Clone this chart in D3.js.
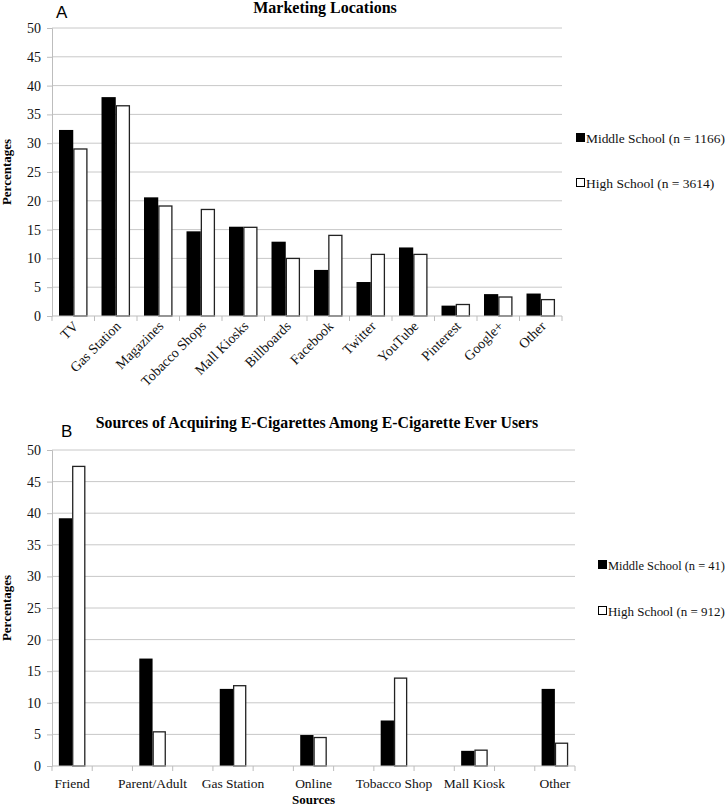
<!DOCTYPE html>
<html><head><meta charset="utf-8">
<script src="https://cdn.jsdelivr.net/npm/d3@7"></script>
<style>body{margin:0;background:#fff}svg{display:block}</style>
</head><body>
<script>
const locCategories = ["TV","Gas Station","Magazines","Tobacco Shops","Mall Kiosks","Billboards","Facebook","Twitter","YouTube","Pinterest","Google+","Other"];
const locMiddle = [32.3,38.0,20.6,14.7,15.5,12.9,8.0,5.9,11.9,1.8,3.8,3.9];
const locHigh   = [29.1,36.6,19.2,18.6,15.5,10.1,14.1,10.8,10.8,2.1,3.4,2.95];
const srcCategories = ["Friend","","Parent/Adult","","Gas Station","","Online","","Tobacco Shop","","Mall Kiosk","","Other"];
const srcMiddle = [39.2,null,17.0,null,12.2,null,4.9,null,7.2,null,2.4,null,12.2];
const srcHigh   = [47.5,null,5.5,null,12.8,null,4.6,null,14.0,null,2.6,null,3.7];
const yTicks = [0,5,10,15,20,25,30,35,40,45,50];
const seriesNames = ["Middle School","High School"];
const legendA = ["Middle School (n = 1166)","High School (n = 3614)"];
const legendB = ["Middle School (n = 41)","High School (n = 912)"];

const W=728,H=808;
const svg=d3.select("body").append("svg").attr("width",W).attr("height",H);
const serif="'Liberation Serif','Times New Roman',serif";
const sans="'Liberation Sans',Arial,sans-serif";

function panel(opt){
  const g=svg.append("g");
  const x=d3.scaleBand().domain(d3.range(opt.cats.length)).range([opt.x0,opt.x1]);
  const y=d3.scaleLinear().domain([0,50]).range([opt.y0,opt.y1]);
  g.append("g").selectAll("line").data(yTicks.filter(t=>t>0)).join("line")
    .attr("x1",opt.x0).attr("x2",opt.x1).attr("y1",d=>y(d)).attr("y2",d=>y(d))
    .attr("stroke","#c8c8c8").attr("stroke-width",1);
  const ya=g.append("g").attr("transform",`translate(${opt.x0},0)`)
    .call(d3.axisLeft(y).tickValues(yTicks).tickSize(5).tickPadding(6));
  ya.select(".domain").attr("stroke","#bdbdbd");
  ya.selectAll(".tick line").attr("stroke","#bdbdbd");
  ya.selectAll("text").attr("font-family",serif).attr("font-size",14).attr("fill","#111");
  const bw=x.bandwidth()*opt.barFrac;
  const data=opt.cats.map((c,i)=>({i,m:opt.mid[i],h:opt.high[i]}));
  const grp=g.append("g");
  grp.selectAll("rect.m").data(data.filter(d=>d.m!=null)).join("rect").attr("class","m")
    .attr("x",d=>x(d.i)+x.bandwidth()/2-bw).attr("width",bw)
    .attr("y",d=>y(d.m)).attr("height",d=>y(0)-y(d.m)).attr("fill","#000");
  grp.selectAll("rect.h").data(data.filter(d=>d.h!=null)).join("rect").attr("class","h")
    .attr("x",d=>x(d.i)+x.bandwidth()/2+0.6).attr("width",bw-1.2)
    .attr("y",d=>y(d.h)+0.6).attr("height",d=>y(0)-y(d.h)-0.6).attr("fill","#fff")
    .attr("stroke","#222").attr("stroke-width",1.3);
  const xa=g.append("g");
  xa.append("line").attr("x1",opt.x0).attr("x2",opt.x1).attr("y1",y(0)).attr("y2",y(0)).attr("stroke","#bdbdbd");
  const edges=d3.range(opt.cats.length+1).map(i=>opt.x0+i*x.step());
  xa.selectAll("line.t").data(edges).join("line").attr("class","t")
    .attr("x1",d=>d).attr("x2",d=>d).attr("y1",y(0)).attr("y2",y(0)+5).attr("stroke","#bdbdbd");
  const lab=xa.selectAll("text").data(data.filter(d=>opt.cats[d.i]!=="")).join("text")
    .text(d=>opt.cats[d.i]).attr("font-family",serif).attr("font-size",opt.rotate?14:13.5).attr("fill","#111");
  if(opt.rotate){
    lab.attr("text-anchor","end")
      .attr("transform",d=>`translate(${x(d.i)+x.bandwidth()/2+6},${y(0)+11}) rotate(-45)`);
  } else {
    lab.attr("text-anchor","middle").attr("x",d=>x(d.i)+x.bandwidth()/2).attr("y",y(0)+22);
  }
  g.append("text").attr("x",opt.titleX).attr("y",opt.titleY).attr("text-anchor","middle")
    .attr("font-family",serif).attr("font-weight","bold").attr("font-size",opt.titleSize).text(opt.title);
  g.append("text").attr("x",opt.letterX).attr("y",opt.letterY).attr("font-family",sans)
    .attr("font-size",17).text(opt.letter);
  g.append("text").attr("transform",`translate(11,${(opt.y0+opt.y1)/2}) rotate(-90)`)
    .attr("text-anchor","middle").attr("font-family",serif).attr("font-weight","bold")
    .attr("font-size",13).text("Percentages");
  if(opt.xTitle){
    g.append("text").attr("x",(opt.x0+opt.x1)/2).attr("y",opt.xTitleY).attr("text-anchor","middle")
      .attr("font-family",serif).attr("font-weight","bold").attr("font-size",13).text(opt.xTitle);
  }
  const lg=g.append("g");
  opt.legend.forEach((t,i)=>{
    const ly=opt.legY[i];
    lg.append("rect").attr("x",opt.legX+0.5).attr("y",ly-9.5).attr("width",8).attr("height",8)
      .attr("fill",i===0?"#000":"#fff").attr("stroke","#000").attr("stroke-width",1);
    const tx=lg.append("text").attr("x",opt.legX+10).attr("y",ly).attr("font-family",serif)
      .attr("font-size",13.5).attr("fill","#111").text(t);
    const len=tx.node().getComputedTextLength();
    const maxLen=W-3-(opt.legX+10);
    if(len>maxLen) tx.attr("font-size",13.5*maxLen/len);
  });
}

panel({cats:locCategories,mid:locMiddle,high:locHigh,x0:52,x1:562,y0:316,y1:28,barFrac:0.335,rotate:true,
  title:"Marketing Locations",titleSize:16,titleX:325,titleY:13,letter:"A",letterX:56,letterY:18,
  legend:legendA,legX:576,legY:[143,188]});
panel({cats:srcCategories,mid:srcMiddle,high:srcHigh,x0:52,x1:575,y0:766,y1:450,barFrac:0.33,rotate:false,
  title:"Sources of Acquiring E-Cigarettes Among E-Cigarette Ever Users",titleSize:15.8,titleX:317,titleY:428,letter:"B",letterX:61,letterY:437,
  xTitle:"Sources",xTitleY:804,legend:legendB,legX:598,legY:[570,616]});
</script>
</body></html>
